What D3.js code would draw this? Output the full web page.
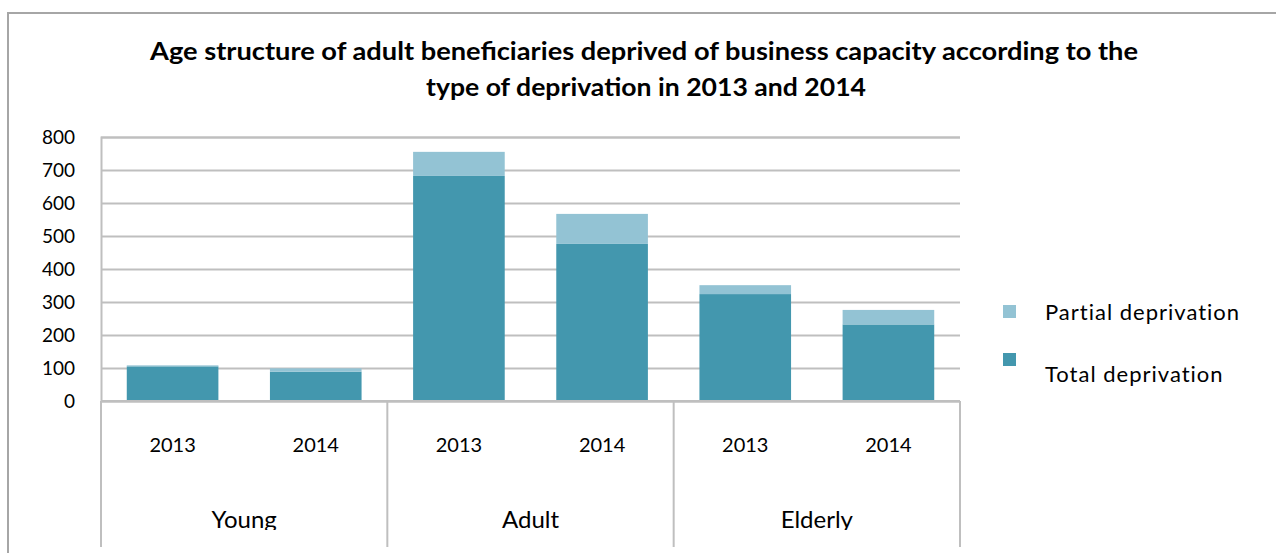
<!DOCTYPE html>
<html>
<head>
<meta charset="utf-8">
<script src="https://cdn.jsdelivr.net/npm/d3@7"></script>
<style>
  body { margin: 0; background: #fff; }
  svg { display: block; font-family: Lato, "Open Sans", sans-serif; }
</style>
</head>
<body>
<div id="chart"></div>
<script>
"use strict";

// data
const groups = ["Young", "Adult", "Elderly"];
const years = ["2013", "2014"];
const totalDeprivation = [105, 89, 682, 476, 324, 232];
const partialDeprivation = [3, 10, 73, 91, 27, 44];
const yTicks = [0, 100, 200, 300, 400, 500, 600, 700, 800];
const seriesNames = ["Partial deprivation", "Total deprivation"];
const seriesColors = ["#93c3d4", "#4397ae"];

const width = 1276, height = 553;
const margin = { top: 137, left: 101, right: 316, bottom: 152 };
const plotW = width - margin.left - margin.right;
const plotH = height - margin.top - margin.bottom;

// build rows for the stack
const rows = [];
groups.forEach((g, gi) => {
    years.forEach((yr, yi) => {
        const i = gi * years.length + yi;
        rows.push({ key: g + "|" + yr, group: g, year: yr,
                    total: totalDeprivation[i], partial: partialDeprivation[i] });
    });
});

const svg = d3.select("#chart").append("svg")
    .attr("width", width)
    .attr("height", height);

// outer chart border
svg.append("rect")
    .attr("x", 8).attr("y", 13)
    .attr("width", width + 20).attr("height", height + 20)
    .attr("fill", "none")
    .attr("stroke", "#a6a6a6")
    .attr("stroke-width", 2);

// title (stretched to the width of the original lines)
const title = svg.append("text")
    .attr("text-anchor", "middle")
    .attr("font-weight", "bold")
    .attr("font-size", 24)
    .attr("fill", "#000");
title.append("tspan").attr("x", 644).attr("y", 60)
    .attr("textLength", 988).attr("lengthAdjust", "spacingAndGlyphs")
    .text("Age structure of adult beneficiaries deprived of business capacity according to the");
title.append("tspan").attr("x", 646).attr("y", 96)
    .attr("textLength", 440).attr("lengthAdjust", "spacingAndGlyphs")
    .text("type of deprivation in 2013  and 2014");

const g = svg.append("g")
    .attr("transform", "translate(" + margin.left + "," + margin.top + ")");

// scales
const x = d3.scaleBand()
    .domain(rows.map(d => d.key))
    .range([0, plotW])
    .paddingInner(0.36)
    .paddingOuter(0.18);

const xGroup = d3.scaleBand()
    .domain(groups)
    .range([0, plotW]);

const y = d3.scaleLinear()
    .domain([0, 800])
    .range([plotH, 0]);

// y axis with gridlines
const yAxis = g.append("g")
    .call(d3.axisLeft(y)
        .tickValues(yTicks)
        .tickSize(-plotW)
        .tickPadding(26));
yAxis.select(".domain").attr("stroke", "#bfbfbf").attr("stroke-width", 2);
yAxis.selectAll(".tick line").attr("stroke", "#bfbfbf").attr("stroke-width", 2);
yAxis.selectAll(".tick text")
    .attr("font-size", 19)
    .attr("fill", "#000")
    .attr("font-family", "Lato, sans-serif");

// stacked bars
const stack = d3.stack().keys(["total", "partial"]);
const layers = stack(rows);

g.append("g").selectAll("g")
    .data(layers)
    .join("g")
    .attr("fill", (d, i) => i === 0 ? seriesColors[1] : seriesColors[0])
    .selectAll("rect")
    .data(d => d)
    .join("rect")
    .attr("x", d => x(d.data.key))
    .attr("width", x.bandwidth())
    .attr("y", d => y(d[1]))
    .attr("height", d => y(d[0]) - y(d[1]));

// bottom axis line and category separators
g.append("line")
    .attr("x1", 0).attr("x2", plotW)
    .attr("y1", plotH).attr("y2", plotH)
    .attr("stroke", "#bfbfbf").attr("stroke-width", 2);

const seps = groups.map(d => xGroup(d)).concat([plotW]);
g.append("g").selectAll("line")
    .data(seps)
    .join("line")
    .attr("x1", d => d).attr("x2", d => d)
    .attr("y1", plotH).attr("y2", plotH + 146)
    .attr("stroke", "#bfbfbf").attr("stroke-width", 2);

// year labels
g.append("g").selectAll("text")
    .data(rows)
    .join("text")
    .attr("x", d => x(d.key) + x.bandwidth() / 2)
    .attr("y", plotH + 51)
    .attr("text-anchor", "middle")
    .attr("font-size", 20)
    .attr("fill", "#000")
    .text(d => d.year);

// group labels, clipped at the bottom like the original
svg.append("clipPath").attr("id", "clipBottom")
    .append("rect").attr("x", 0).attr("y", 0)
    .attr("width", width).attr("height", 530);

svg.append("g")
    .attr("clip-path", "url(#clipBottom)")
    .selectAll("text")
    .data(groups)
    .join("text")
    .attr("x", d => margin.left + xGroup(d) + xGroup.bandwidth() / 2)
    .attr("y", margin.top + plotH + 127)
    .attr("text-anchor", "middle")
    .attr("font-size", 24)
    .attr("fill", "#000")
    .text(d => d);

// legend
const legend = svg.append("g").selectAll("g")
    .data(seriesNames)
    .join("g");
legend.append("rect")
    .attr("x", 1003)
    .attr("y", (d, i) => 305 + i * 48)
    .attr("width", 13).attr("height", 13)
    .attr("fill", (d, i) => seriesColors[i]);
legend.append("text")
    .attr("x", 1045)
    .attr("y", (d, i) => 320 + i * 62)
    .attr("font-size", 22)
    .attr("letter-spacing", 1)
    .attr("fill", "#000")
    .text(d => d);
</script>
</body>
</html>
